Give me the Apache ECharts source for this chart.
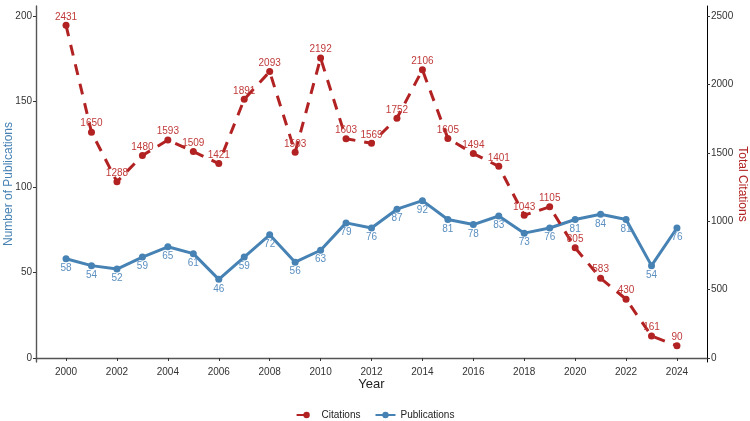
<!DOCTYPE html>
<html>
<head>
<meta charset="utf-8">
<script src="https://cdn.jsdelivr.net/npm/echarts@6/dist/echarts.min.js"></script>
<style>html,body{margin:0;padding:0;background:#fff}#c{width:750px;height:421px}</style>
</head>
<body>
<div id="c"></div>
<script>
const years = [2000,2001,2002,2003,2004,2005,2006,2007,2008,2009,2010,2011,2012,2013,2014,2015,2016,2017,2018,2019,2020,2021,2022,2023,2024];
const publications = [58,54,52,59,65,61,46,59,72,56,63,79,76,87,92,81,78,83,73,76,81,84,81,54,76];
const citations = [2431,1650,1288,1480,1593,1509,1421,1891,2093,1503,2192,1603,1569,1752,2106,1605,1494,1401,1043,1105,805,583,430,161,90];
const xTicks = [2000,2002,2004,2006,2008,2010,2012,2014,2016,2018,2020,2022,2024];
const leftTicks = [0,50,100,150,200];
const rightTicks = [0,500,1000,1500,2000,2500];

const blue = '#4682B4', red = '#B22222';
const font = 'Liberation Sans, Arial, sans-serif';
const chart = echarts.init(document.getElementById('c'));
chart.setOption({
  animation: false,
  backgroundColor: '#fff',
  grid: {left: 36, right: 43, top: 6, bottom: 59, containLabel: false, outerBoundsMode: 'none'},
  legend: {
    bottom: -4, left: 'center', itemWidth: 20, itemHeight: 8, itemGap: 14,
    textStyle: {fontFamily: font, fontSize: 10, color: '#222'},
    data: ['Citations', 'Publications']
  },
  xAxis: {
    type: 'value', min: 1998.82, max: 2025.18,
    name: 'Year', nameLocation: 'middle', nameGap: 16, nameMoveOverlap: false,
    nameTextStyle: {fontFamily: font, fontSize: 13, color: '#222'},
    axisLine: {show: true, lineStyle: {color: '#555', width: 1.4}},
    axisTick: {show: true, customValues: xTicks, length: 3, lineStyle: {color: '#333'}},
    axisLabel: {customValues: xTicks, fontFamily: font, fontSize: 10, color: '#333', margin: 5, formatter: v => String(v)},
    splitLine: {show: false}
  },
  yAxis: [{
    type: 'value', min: -2.34, max: 205.8, position: 'left',
    name: 'Number of Publications', nameLocation: 'middle', nameGap: 21, nameRotate: 90, nameMoveOverlap: false,
    nameTextStyle: {fontFamily: font, fontSize: 12, color: blue},
    axisLine: {show: true, lineStyle: {color: '#555', width: 1.4}},
    axisTick: {show: true, customValues: leftTicks, length: 3, lineStyle: {color: '#333'}},
    axisLabel: {customValues: leftTicks, fontFamily: font, fontSize: 10, color: '#333', margin: 4, formatter: v => String(v)},
    splitLine: {show: false}
  }, {
    type: 'value', min: -29.25, max: 2572.5, position: 'right',
    name: 'Total Citations', nameLocation: 'middle', nameGap: 29, nameRotate: -90, nameMoveOverlap: false,
    nameTextStyle: {fontFamily: font, fontSize: 12, color: red},
    axisLine: {show: true, lineStyle: {color: '#000', width: 1}},
    axisTick: {show: true, customValues: rightTicks, length: 3, lineStyle: {color: '#333'}},
    axisLabel: {customValues: rightTicks, fontFamily: font, fontSize: 10, color: '#333', margin: 4, formatter: v => String(v)},
    splitLine: {show: false}
  }],
  series: [{
    name: 'Publications', type: 'line', yAxisIndex: 0, z: 2,
    data: years.map((y, i) => [y, publications[i]]),
    symbol: 'circle', symbolSize: 7,
    itemStyle: {color: blue},
    lineStyle: {color: blue, width: 3},
    label: {show: true, position: 'bottom', distance: 1, fontFamily: font, fontSize: 10, color: '#5b8fc0'}
  }, {
    name: 'Citations', type: 'line', yAxisIndex: 1, z: 3,
    data: years.map((y, i) => [y, citations[i]]),
    symbol: 'circle', symbolSize: 7,
    itemStyle: {color: red},
    lineStyle: {color: red, width: 3, type: [11, 9]},
    label: {show: true, position: 'top', distance: 0, fontFamily: font, fontSize: 10, color: '#c03a3a'}
  }]
});
</script>
</body>
</html>
